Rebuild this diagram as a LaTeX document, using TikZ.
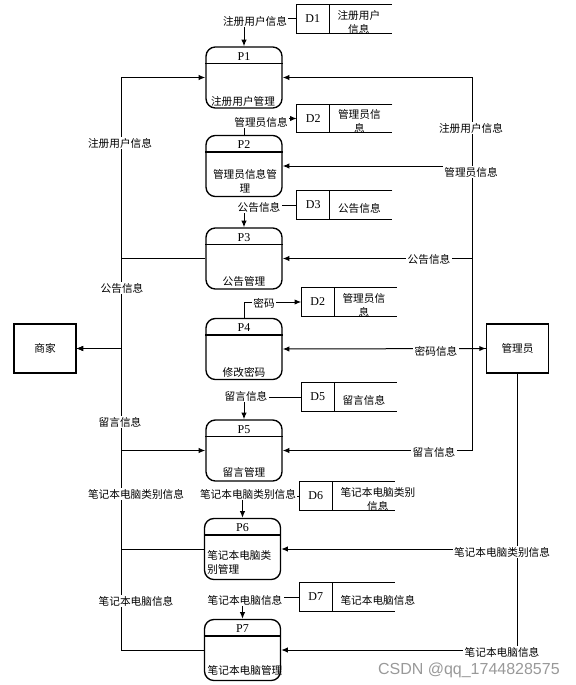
\documentclass[tikz,border=0pt]{standalone}
\usepackage{fontspec}
\setmainfont{Liberation Serif}
\newfontfamily\cjk{Noto Sans CJK SC}
\newfontfamily\wmfont{Liberation Sans}
\usetikzlibrary{arrows.meta,calc}

\tikzset{
  proc/.style={draw, line width=1pt, rounded corners=7pt, minimum width=57pt, minimum height=45.75pt, inner sep=0pt},
  store/.style={minimum width=71.25pt, minimum height=21pt, inner sep=0pt},
  ent/.style={draw, line width=0.8pt, minimum width=46.5pt, minimum height=36.75pt, font=\cjk\fontsize{8}{10}\selectfont},
  lab/.style={fill=white, inner sep=1pt, font=\cjk\fontsize{8}{10}\selectfont},
  cn/.style={inner sep=0pt, font=\cjk\fontsize{8}{10.5}\selectfont},
  idtxt/.style={inner sep=0pt, font=\fontsize{9}{10}\selectfont},
  flow/.style={-{Latex[length=5pt,width=4pt]}, line width=0.75pt},
}

\begin{document}
\begin{tikzpicture}[x=0.75pt,y=0.75pt,yscale=-1,xscale=1]
		\useasboundingbox (0,0) rectangle (575,685);
		% processes
		\foreach \n/\x/\y in {1/244/77.5, 2/244/166, 3/244/258.5, 4/244/349, 5/244/450.5, 6/242.5/549, 7/242.5/650}{
			\node[proc] (p\n) at (\x,\y) {};
			\draw[line width=1pt] ($(p\n.north west)+(0,17)$) -- ($(p\n.north east)+(0,17)$);
			\node[idtxt] (p\n t) at ($(p\n.north)+(0,10)$) {P\n};
		}
		\node[cn] (p1n) at (243,101) {注册用户管理};
		\node[cn, align=center] (p2n) at (245,181) {管理员信息管\\理};
		\node[cn] (p3n) at (244,281) {公告管理};
		\node[cn] (p4n) at (244,372) {修改密码};
		\node[cn] (p5n) at (244,472) {留言管理};
		\node[cn, align=left, anchor=west] (p6n) at (207,562) {笔记本电脑类\\别管理};
		\node[cn] (p7n) at (245,670) {笔记本电脑管理};
		% data stores
		\foreach \n/\x/\y/\id/\t in {1/344/19/D1/{注册用户\\信息}, 2/344.5/118.5/D2/{管理员信\\息}, 3/344.5/205/D3/{公告信息}, 2b/349/302/D2/{管理员信\\息}, 5/349/397/D5/{留言信息}, 6/347/496/D6/{笔记本电脑类别\\信息}, 7/347/597/D7/{笔记本电脑信息}}{
			\node[store] (d\n) at (\x,\y) {};
			\draw[line width=0.75pt] (d\n.north east) -- (d\n.north west) -- (d\n.south west) -- (d\n.south east);
			\draw[line width=0.75pt] ($(d\n.north west)+(33,0)$) -- ($(d\n.south west)+(33,0)$);
			\node[idtxt] (d\n i) at ($(d\n.west)+(16.5,0)$) {\id};
			\node[cn, align=center, anchor=west] (d\n n) at ($(d\n.west)+(41,3)$) {\t};
		}
		% external entities
		\node[ent] (mer) at (45,348.5) {商家};
		\node[ent] (adm) at (517.5,348.5) {管理员};
		\coordinate (lbus) at (121,0);
		\coordinate (rbus) at (472,0);

		% merchant side
		\draw[flow] (mer.east) -| (lbus |- p1.west) -- (p1.west);
		\draw[flow] (p3.west) -| (lbus |- mer.east) -- (mer.east);
		\draw[flow] (mer.east) -| (lbus |- p5.west) -- (p5.west);
		\draw[flow] (p6.west) -| (lbus |- mer.east) -- (mer.east);
		\draw[flow] (p7.west) -| (lbus |- mer.east) -- (mer.east);
		% admin side
		\draw[flow] (adm.west) -| (rbus |- p1.east) -- (p1.east);
		\draw[flow] (adm.west) -| (rbus |- p2.east) -- (p2.east);
		\draw[flow] (adm.west) -| (rbus |- p3.east) -- (p3.east);
		\draw[{Latex[length=5pt,width=4pt]}-{Latex[length=5pt,width=4pt]}, line width=0.75pt] (p4.east) -- (adm.west);
		\draw[flow] (adm.west) -| (rbus |- p5.east) -- (p5.east);
		\draw[flow] (adm.south) |- (p6.east);
		\draw[flow] (adm.south) |- (p7.east);
		% stores
		\draw[flow] (d1.west) -| (p1.north);
		\draw[flow] (p2.north) |- (d2.west);
		\draw[flow] (d3.west) -| (p3.north);
		\draw[flow] (p4.north) |- (d2b.west);
		\draw[flow] (d5.west) -| (p5.north);
		\draw[flow] (d6.west) -| (p6.north);
		\draw[flow] (d7.west) -| (p7.north);

		% flow labels
		\node[lab] (l1) at (120,143) {注册用户信息};
		\node[lab] (l2) at (122,288) {公告信息};
		\node[lab] (l3) at (120,422) {留言信息};
		\node[lab] (l4) at (136,494) {笔记本电脑类别信息};
		\node[lab] (l5) at (136,601) {笔记本电脑信息};
		\node[lab] (r1) at (471,128) {注册用户信息};
		\node[lab] (r2) at (471,172) {管理员信息};
		\node[lab] (r3) at (429,259) {公告信息};
		\node[lab] (r4) at (436,351) {密码信息};
		\node[lab] (r5) at (434,452) {留言信息};
		\node[lab] (r6) at (502,552) {笔记本电脑类别信息};
		\node[lab] (r7) at (502,652) {笔记本电脑信息};
		\node[lab] (s1) at (255,21) {注册用户信息};
		\node[lab] (s2) at (261,122) {管理员信息};
		\node[lab] (s3) at (259,207) {公告信息};
		\node[lab] (s4) at (264,303) {密码};
		\node[lab] (s5) at (246,396) {留言信息};
		\node[lab] (s6) at (248,494) {笔记本电脑类别信息};
		\node[lab] (s7) at (245,600) {笔记本电脑信息};

		\node[anchor=east, inner sep=0pt, text=black!40, font=\wmfont\fontsize{12}{13}\selectfont] (wm) at (560,670) {CSDN @qq\_1744828575};
\end{tikzpicture}
\end{document}
